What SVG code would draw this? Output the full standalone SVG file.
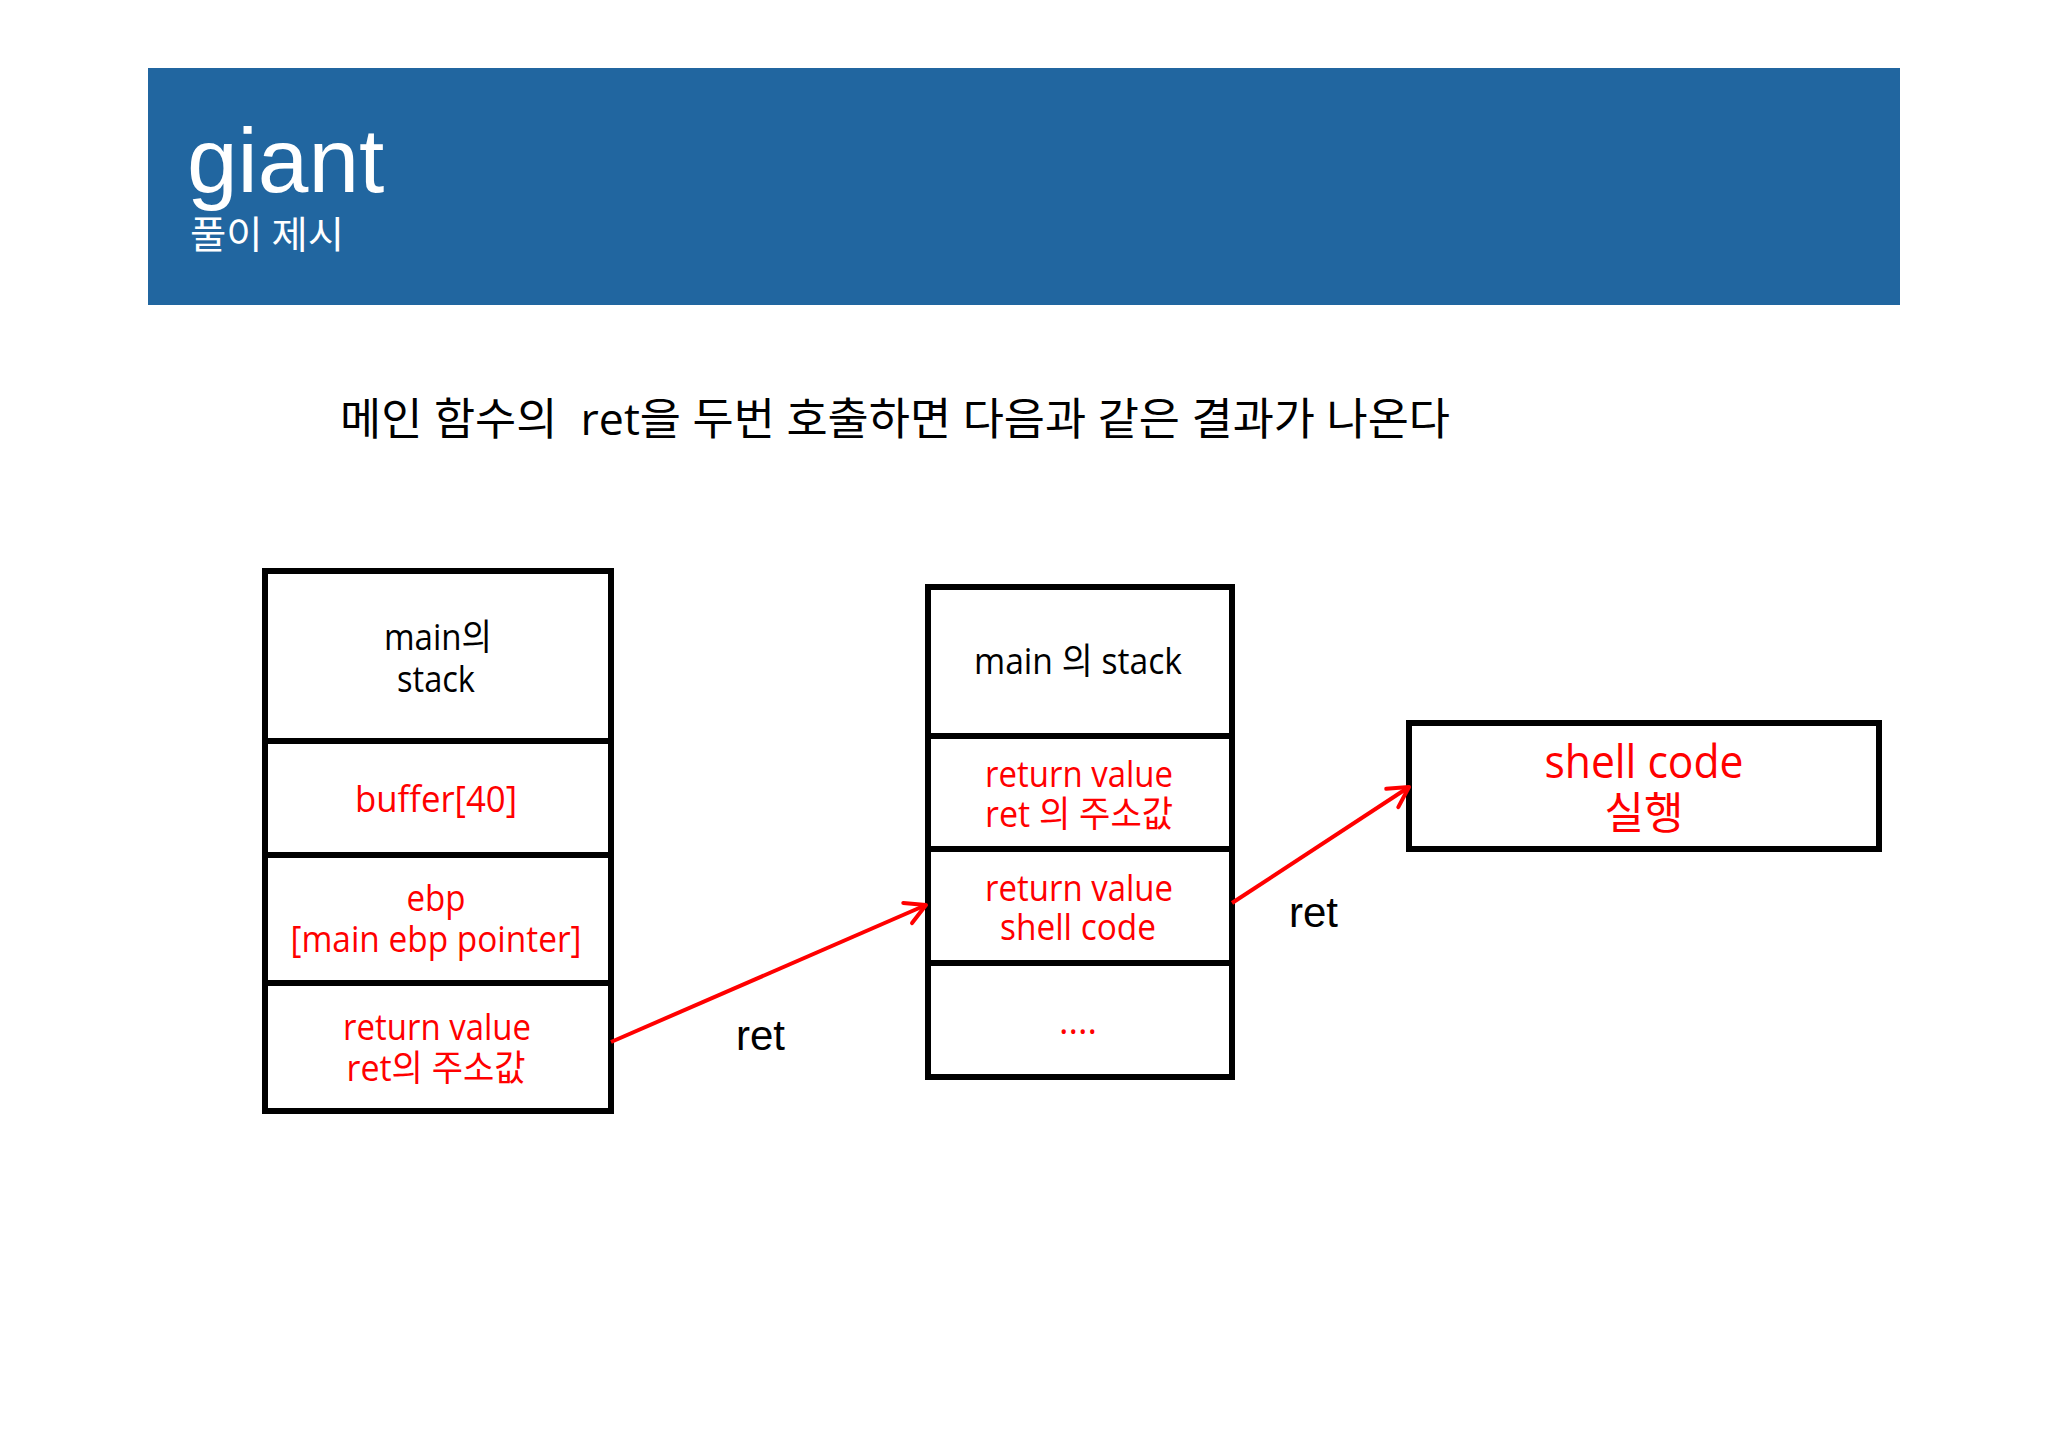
<svg xmlns="http://www.w3.org/2000/svg" width="2048" height="1449" viewBox="0 0 2048 1449">
<defs>
<style>
.cell{fill:#FFFFFF;stroke:#000000;stroke-width:6}
.t{font-family:"Open Sans","Noto Sans CJK KR",sans-serif;text-anchor:middle}
.bk{fill:#000000}
.rd{fill:#FF0000}
.lbl{font-family:"Liberation Sans",Arial,sans-serif;font-size:42px;fill:#000000}
.arrow{stroke:#FF0000;stroke-width:4;fill:none;marker-end:url(#ah)}
</style>
<marker id="ah" markerUnits="userSpaceOnUse" markerWidth="40" markerHeight="40" viewBox="-30 -20 40 40" refX="0" refY="0" orient="auto">
<path d="M -20 -11 L 0 0 L -20 11" fill="none" stroke="#FF0000" stroke-width="4" stroke-linecap="round" stroke-linejoin="round"/>
</marker>
</defs>
<rect x="0" y="0" width="2048" height="1449" fill="#FFFFFF"/>
<g id="header">
<rect x="148" y="68" width="1752" height="237" fill="#2166A0"/>
<text font-family="Liberation Sans, Arial, sans-serif" fill="#FFFFFF"><tspan x="187" y="192" font-size="91">giant</tspan><tspan x="190" y="248" font-family="Noto Sans CJK KR, sans-serif" font-size="38" textLength="154" lengthAdjust="spacingAndGlyphs">풀이 제시</tspan></text>
</g>
<g id="caption">
<text x="340" y="435" font-family="Open Sans, Noto Sans CJK KR, sans-serif" font-size="44" fill="#000000" textLength="1110" lengthAdjust="spacingAndGlyphs" xml:space="preserve">메인 함수의  ret을 두번 호출하면 다음과 같은 결과가 나온다</text>
</g>
<g id="left-stack">
<rect class="cell" x="265" y="571" width="346" height="170"/>
<rect class="cell" x="265" y="741" width="346" height="114"/>
<rect class="cell" x="265" y="855" width="346" height="128"/>
<rect class="cell" x="265" y="983" width="346" height="128"/>
<text class="t bk" font-size="36"><tspan x="438" y="650" textLength="108" lengthAdjust="spacingAndGlyphs">main의</tspan><tspan x="436" y="692" textLength="78" lengthAdjust="spacingAndGlyphs">stack</tspan></text>
<text class="t rd" x="436" y="812" font-size="36" textLength="162" lengthAdjust="spacingAndGlyphs">buffer[40]</text>
<text class="t rd" font-size="36"><tspan x="436" y="911" textLength="59" lengthAdjust="spacingAndGlyphs">ebp</tspan><tspan x="436" y="952" textLength="291" lengthAdjust="spacingAndGlyphs">[main ebp pointer]</tspan></text>
<text class="t rd" font-size="36"><tspan x="437" y="1040" textLength="188" lengthAdjust="spacingAndGlyphs">return value</tspan><tspan x="436" y="1081" textLength="179" lengthAdjust="spacingAndGlyphs">ret의 주소값</tspan></text>
</g>
<g id="middle-stack">
<rect class="cell" x="928" y="587" width="304" height="149"/>
<rect class="cell" x="928" y="736" width="304" height="113"/>
<rect class="cell" x="928" y="849" width="304" height="114"/>
<rect class="cell" x="928" y="963" width="304" height="114"/>
<text class="t bk" x="1078" y="674" font-size="36" textLength="208" lengthAdjust="spacingAndGlyphs">main 의 stack</text>
<text class="t rd" font-size="36"><tspan x="1079" y="787" textLength="188" lengthAdjust="spacingAndGlyphs">return value</tspan><tspan x="1079" y="827" textLength="188" lengthAdjust="spacingAndGlyphs">ret 의 주소값</tspan></text>
<text class="t rd" font-size="36"><tspan x="1079" y="901" textLength="188" lengthAdjust="spacingAndGlyphs">return value</tspan><tspan x="1078" y="940" textLength="156" lengthAdjust="spacingAndGlyphs">shell code</tspan></text>
<text class="t rd" x="1078" y="1034" font-size="36" textLength="38" lengthAdjust="spacingAndGlyphs">....</text>
</g>
<g id="shell-box">
<rect class="cell" x="1409" y="723" width="470" height="126"/>
<text class="t rd"><tspan x="1644" y="778" font-size="46" textLength="199" lengthAdjust="spacingAndGlyphs">shell code</tspan><tspan x="1644" y="829" font-size="44" textLength="79" lengthAdjust="spacingAndGlyphs">실행</tspan></text>
</g>
<g id="connectors">
<line class="arrow" x1="611" y1="1042" x2="926" y2="905"/>
<line class="arrow" x1="1232" y1="903" x2="1409" y2="787"/>
<text class="lbl" x="736" y="1050">ret</text>
<text class="lbl" x="1289" y="927">ret</text>
</g>
</svg>
